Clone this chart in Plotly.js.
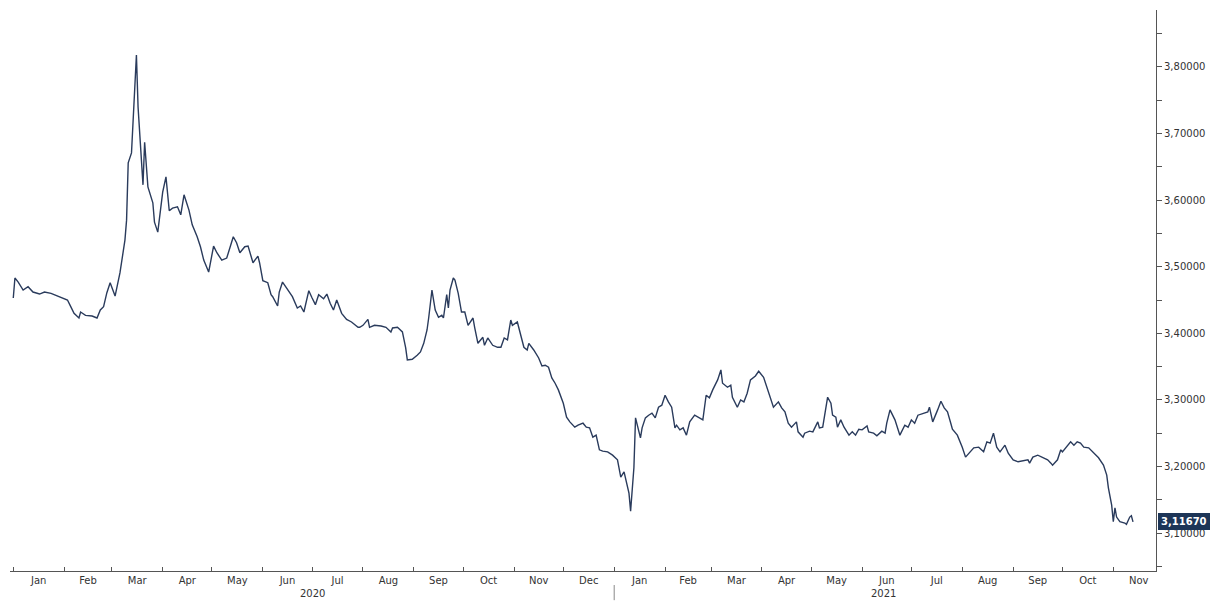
<!DOCTYPE html>
<html>
<head>
<meta charset="utf-8">
<script src="https://cdn.plot.ly/plotly-3.0.1.min.js"></script>
<style>html,body{margin:0;padding:0;background:#fff;}#chart{width:1220px;height:603px;}</style>
</head>
<body>
<div id="chart"></div>
<script>
// USD/ILS style daily series
const dates = [
"2020-01-01","2020-01-02","2020-01-04","2020-01-07","2020-01-10","2020-01-13","2020-01-17","2020-01-20","2020-01-24","2020-01-27","2020-01-30",
"2020-02-03","2020-02-05","2020-02-07","2020-02-10","2020-02-11","2020-02-14","2020-02-18","2020-02-21","2020-02-23","2020-02-25","2020-02-27","2020-02-29",
"2020-03-03","2020-03-06","2020-03-09","2020-03-10","2020-03-11","2020-03-13","2020-03-15","2020-03-16","2020-03-17","2020-03-19","2020-03-20","2020-03-21","2020-03-23","2020-03-26","2020-03-27","2020-03-29",
"2020-04-01","2020-04-03","2020-04-05","2020-04-07","2020-04-10","2020-04-12","2020-04-14","2020-04-17","2020-04-19","2020-04-22","2020-04-24","2020-04-26","2020-04-29",
"2020-05-02","2020-05-04","2020-05-07","2020-05-10","2020-05-14","2020-05-16","2020-05-18","2020-05-21","2020-05-23","2020-05-26","2020-05-29","2020-05-30",
"2020-06-01","2020-06-04","2020-06-06","2020-06-07","2020-06-10","2020-06-11","2020-06-13","2020-06-16","2020-06-19","2020-06-22","2020-06-24","2020-06-26","2020-06-29",
"2020-07-01","2020-07-03","2020-07-05","2020-07-08","2020-07-10","2020-07-12","2020-07-14","2020-07-16","2020-07-19","2020-07-22","2020-07-25","2020-07-29","2020-07-30",
"2020-08-01","2020-08-04","2020-08-05","2020-08-08","2020-08-12","2020-08-15","2020-08-18","2020-08-19","2020-08-22","2020-08-25","2020-08-27","2020-08-28","2020-08-31",
"2020-09-03","2020-09-05","2020-09-07","2020-09-09","2020-09-10","2020-09-12","2020-09-14","2020-09-16","2020-09-18","2020-09-19","2020-09-21","2020-09-22","2020-09-23","2020-09-25","2020-09-26","2020-09-28","2020-09-30",
"2020-10-02","2020-10-04","2020-10-07","2020-10-08","2020-10-10","2020-10-13","2020-10-14","2020-10-16","2020-10-19","2020-10-22","2020-10-24","2020-10-26","2020-10-28","2020-10-30","2020-10-31",
"2020-11-03","2020-11-05","2020-11-07","2020-11-09","2020-11-10","2020-11-13","2020-11-16","2020-11-18","2020-11-20","2020-11-22","2020-11-24","2020-11-26","2020-11-28",
"2020-12-01","2020-12-03","2020-12-05","2020-12-08","2020-12-10","2020-12-13","2020-12-15","2020-12-17","2020-12-19","2020-12-21","2020-12-23","2020-12-25","2020-12-28","2020-12-31",
"2021-01-03","2021-01-05","2021-01-07","2021-01-10","2021-01-11","2021-01-13","2021-01-14","2021-01-17","2021-01-18","2021-01-20","2021-01-22","2021-01-24","2021-01-26","2021-01-28","2021-01-30",
"2021-02-01","2021-02-03","2021-02-05","2021-02-07","2021-02-08","2021-02-10","2021-02-12","2021-02-14","2021-02-16","2021-02-19","2021-02-21","2021-02-24","2021-02-26","2021-02-28",
"2021-03-02","2021-03-05","2021-03-07","2021-03-08","2021-03-11","2021-03-13","2021-03-14","2021-03-17","2021-03-19","2021-03-21","2021-03-23","2021-03-25","2021-03-28","2021-03-30",
"2021-04-02","2021-04-04","2021-04-06","2021-04-08","2021-04-11","2021-04-13","2021-04-15","2021-04-17","2021-04-19","2021-04-22","2021-04-23","2021-04-26","2021-04-27","2021-04-30",
"2021-05-02","2021-05-05","2021-05-06","2021-05-08","2021-05-11","2021-05-13","2021-05-14","2021-05-16","2021-05-17","2021-05-19","2021-05-21","2021-05-24","2021-05-26","2021-05-28","2021-05-30",
"2021-06-01","2021-06-04","2021-06-05","2021-06-08","2021-06-10","2021-06-13","2021-06-15","2021-06-16","2021-06-18","2021-06-21","2021-06-24","2021-06-27","2021-06-29",
"2021-07-01","2021-07-03","2021-07-05","2021-07-08","2021-07-11","2021-07-12","2021-07-14","2021-07-17","2021-07-19","2021-07-21","2021-07-23","2021-07-25","2021-07-26","2021-07-29",
"2021-08-01","2021-08-03","2021-08-05","2021-08-08","2021-08-11","2021-08-14","2021-08-16","2021-08-18","2021-08-20","2021-08-22","2021-08-24","2021-08-27","2021-08-29",
"2021-09-01","2021-09-04","2021-09-07","2021-09-10","2021-09-11","2021-09-13","2021-09-16","2021-09-19","2021-09-22","2021-09-24","2021-09-25","2021-09-28","2021-09-30",
"2021-10-01","2021-10-04","2021-10-06","2021-10-08","2021-10-10","2021-10-12","2021-10-14","2021-10-17","2021-10-20","2021-10-23","2021-10-26","2021-10-28","2021-10-29","2021-10-31",
"2021-11-01","2021-11-02","2021-11-03","2021-11-05","2021-11-08","2021-11-09","2021-11-11","2021-11-12","2021-11-13"
];
const rates = [
3.453,3.483,3.477,3.465,3.470,3.462,3.459,3.462,3.460,3.457,3.453,
3.450,3.440,3.430,3.423,3.432,3.427,3.426,3.423,3.435,3.440,3.461,3.476,
3.456,3.491,3.540,3.570,3.656,3.671,3.765,3.818,3.740,3.665,3.623,3.687,3.620,3.596,3.567,3.552,
3.612,3.635,3.584,3.588,3.590,3.578,3.608,3.585,3.563,3.545,3.530,3.510,3.492,
3.531,3.521,3.510,3.513,3.545,3.536,3.521,3.530,3.531,3.506,3.516,3.506,
3.479,3.476,3.458,3.455,3.441,3.462,3.477,3.465,3.455,3.438,3.441,3.432,3.464,
3.453,3.443,3.458,3.452,3.459,3.445,3.435,3.450,3.430,3.421,3.417,3.409,3.409,
3.412,3.421,3.409,3.412,3.411,3.409,3.402,3.408,3.409,3.402,3.378,3.360,3.361,
3.367,3.372,3.385,3.405,3.423,3.465,3.435,3.424,3.427,3.423,3.458,3.438,3.465,3.483,3.480,3.460,3.432,
3.432,3.412,3.423,3.409,3.385,3.394,3.382,3.393,3.382,3.379,3.379,3.393,3.390,3.420,3.412,
3.417,3.400,3.379,3.375,3.385,3.375,3.363,3.351,3.352,3.349,3.333,3.325,3.315,
3.295,3.274,3.267,3.259,3.262,3.265,3.259,3.258,3.244,3.247,3.225,3.223,3.222,3.217,
3.210,3.184,3.192,3.160,3.133,3.198,3.273,3.243,3.258,3.273,3.277,3.280,3.273,3.289,3.292,
3.307,3.297,3.289,3.258,3.262,3.255,3.258,3.247,3.267,3.277,3.274,3.270,3.307,3.303,
3.315,3.330,3.345,3.325,3.319,3.322,3.304,3.289,3.300,3.297,3.310,3.330,3.336,3.343,
3.334,3.319,3.303,3.289,3.297,3.288,3.282,3.265,3.259,3.267,3.252,3.244,3.250,3.253,
3.252,3.267,3.258,3.259,3.304,3.295,3.277,3.274,3.259,3.270,3.259,3.247,3.252,3.247,3.256,
3.255,3.261,3.252,3.250,3.246,3.253,3.250,3.265,3.285,3.270,3.247,3.262,3.259,
3.270,3.265,3.277,3.280,3.282,3.289,3.267,3.285,3.298,3.288,3.282,3.265,3.256,3.247,
3.229,3.214,3.219,3.228,3.229,3.222,3.237,3.235,3.250,3.229,3.222,3.232,3.220,
3.210,3.207,3.208,3.210,3.205,3.214,3.217,3.214,3.210,3.205,3.202,3.210,3.225,
3.222,3.232,3.237,3.232,3.237,3.235,3.229,3.228,3.220,3.213,3.202,3.187,3.168,3.142,
3.117,3.138,3.124,3.117,3.115,3.113,3.124,3.126,3.1167
];
const yTicks = [3.1,3.2,3.3,3.4,3.5,3.6,3.7,3.8];
const yearLabels = ["2020","2021"];
const yearCenters = ["2020-07-01","2021-06-14"];
const yearBreak = "2021-01-01";

const lastValue = rates[rates.length-1];
const navy = "#1d3557";
const axisColor = "#555";
const font = {family:"DejaVu Sans, Verdana, sans-serif", size:10, color:"#333"};

const trace = {
  x: dates, y: rates, type:"scatter", mode:"lines",
  line:{color:"#2a3b5c", width:1.4}, hoverinfo:"x+y"
};

const layout = {
  width:1220, height:603,
  margin:{l:10, r:64, t:10, b:32},
  paper_bgcolor:"#fff", plot_bgcolor:"#fff",
  separators:", ",
  showlegend:false,
  font:font,
  xaxis:{
    type:"date",
    range:["2019-12-30","2021-11-27"],
    showgrid:false, zeroline:false,
    showline:true, linecolor:axisColor, linewidth:1,
    ticks:"inside", ticklen:4, tickcolor:axisColor,
    dtick:"M1", tick0:"2020-01-01", tickformat:"%b",
    ticklabelmode:"period",
    tickfont:font
  },
  yaxis:{
    side:"right",
    range:[3.043, 3.8856],
    showgrid:false, zeroline:false,
    showline:true, linecolor:axisColor, linewidth:1,
    ticks:"outside", ticklen:5, tickcolor:axisColor,
    tickvals:yTicks, tickformat:".5f",
    minor:{dtick:0.05, tick0:3.05, ticks:"outside", ticklen:5, tickcolor:axisColor, showgrid:false},
    tickfont:font
  },
  annotations: [
    ...yearLabels.map((t,i)=>({
      x:yearCenters[i], xref:"x", y:0, yref:"paper",
      yanchor:"top", yshift:-15, text:t, showarrow:false, font:font
    })),
    {
      x:1, xref:"paper", y:lastValue, yref:"y",
      xanchor:"left", xshift:2, text:"<b>"+lastValue.toFixed(5).replace(".",",")+"</b>",
      showarrow:false, bgcolor:navy, bordercolor:navy, borderpad:2,
      font:{family:"DejaVu Sans, Verdana, sans-serif", size:10, color:"#fff"}
    }
  ],
  shapes:[
    {type:"line", xref:"x", yref:"paper", x0:yearBreak, x1:yearBreak, y0:-0.025, y1:-0.052,
     line:{color:"#888", width:1}}
  ]
};

Plotly.newPlot("chart", [trace], layout, {displayModeBar:false, staticPlot:true});
</script>
</body>
</html>
